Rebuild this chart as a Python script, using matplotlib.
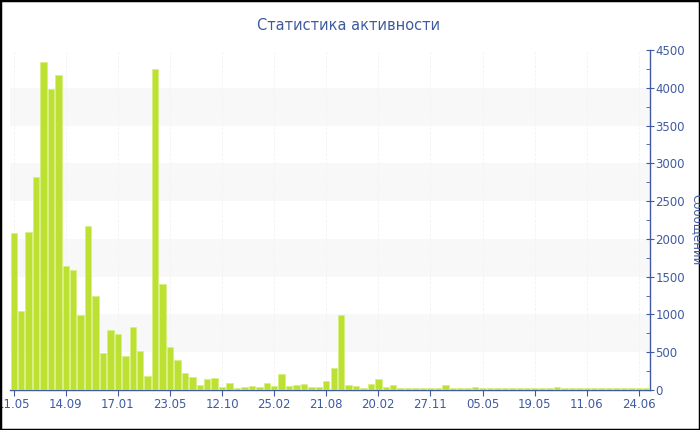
import numpy as np
import matplotlib
matplotlib.use("Agg")
import matplotlib.pyplot as plt
from matplotlib.ticker import MultipleLocator
from matplotlib.patches import Rectangle

# Messages per period
messages = [
    2075, 1045, 2095, 2815, 4335, 3985, 4165, 1645, 1585, 990,
    2175, 1245, 485, 800, 735, 450, 835, 515, 185, 4250,
    1405, 570, 395, 230, 170, 65, 145, 155, 40, 93,
    30, 40, 53, 44, 97, 53, 207, 49, 62, 79,
    35, 35, 119, 296, 993, 68, 53, 20, 79, 146,
    35, 71, 30, 30, 24, 24, 26, 20, 62, 20,
    24, 20, 35, 26, 20, 20, 20, 20, 20, 24,
    20, 20, 20, 40, 20, 20, 20, 28, 20, 20,
    20, 20, 20, 20, 28, 20,
]
tick_labels = ["11.05", "14.09", "17.01", "23.05", "12.10", "25.02", "21.08",
               "20.02", "27.11", "05.05", "19.05", "11.06", "24.06"]
tick_step = 7

blue = "#3f5aa0"
bar_color = "#bde132"

fig = plt.figure(figsize=(7, 4.3), dpi=100)
ax = fig.add_axes([10 / 700, 1 - 390 / 430, 640 / 700, 340 / 430])

x = np.arange(len(messages))
ax.bar(x, messages, width=0.86, color=bar_color, edgecolor="#d6ef7c", linewidth=0.5, zorder=3)

ax.set_xlim(-0.5, len(messages) - 0.5)
ax.set_ylim(0, 4500)

# alternating bands
for lo in range(500, 4500, 1000):
    ax.axhspan(lo, lo + 500, color="#f8f8f8", zorder=0, lw=0)

ax.set_xticks(x[::tick_step])
ax.set_xticklabels(tick_labels)
ax.grid(axis="x", color="#f3f3f3", linestyle="--", linewidth=0.6, zorder=1)

ax.yaxis.tick_right()
ax.yaxis.set_major_locator(MultipleLocator(500))
ax.yaxis.set_minor_locator(MultipleLocator(250))
ax.tick_params(axis="y", which="major", direction="inout", length=6, color=blue,
               labelcolor=blue, labelsize=8.5, pad=1)
ax.tick_params(axis="y", which="minor", direction="in", length=3, color=blue)
ax.tick_params(axis="x", direction="out", length=4, color=blue, labelcolor=blue,
               labelsize=8.5, pad=2)

for side in ["top", "left"]:
    ax.spines[side].set_visible(False)
for side in ["bottom", "right"]:
    ax.spines[side].set_color(blue)
    ax.spines[side].set_linewidth(1.0)

fig.text(349 / 700, 1 - 26 / 430, "Статистика активности", color=blue,
         fontsize=10.5, ha="center", va="center")
fig.text(697 / 700, 1 - 230 / 430, "Сообщений", color=blue, fontsize=8.5,
         rotation=270, ha="center", va="center")

# chart frame
fig.add_artist(Rectangle((0, 0), 1, 1, transform=fig.transFigure, fill=False,
                         edgecolor="black", linewidth=2.5))

fig.savefig("out.png", dpi=100)
